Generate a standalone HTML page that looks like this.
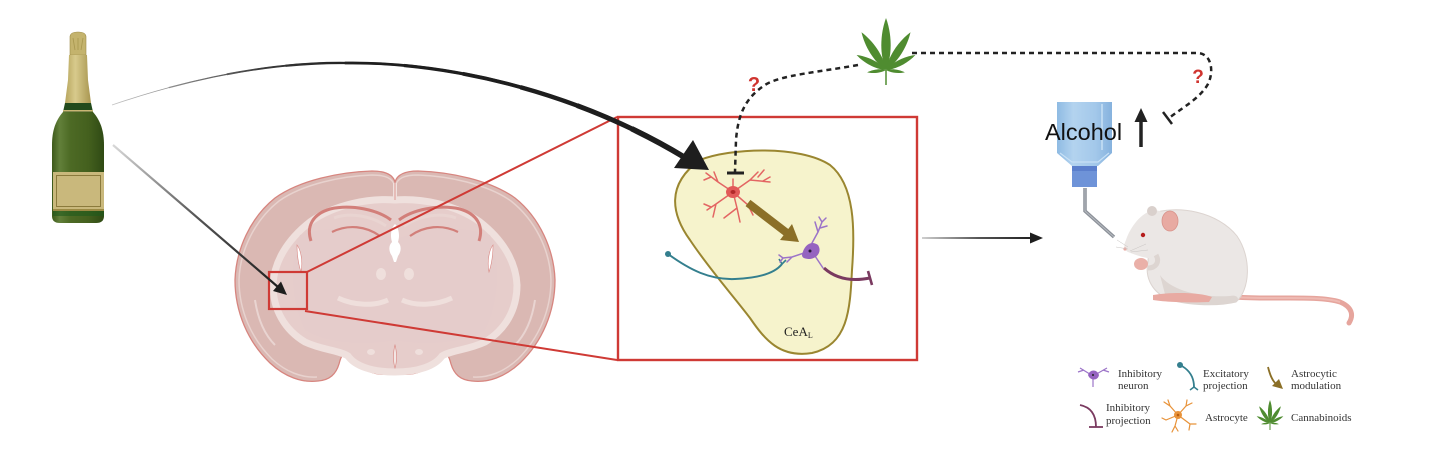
<!DOCTYPE html>
<html><head><meta charset="utf-8"><style>
html,body{margin:0;padding:0;background:#fff;}
svg{display:block;}
</style></head><body>
<svg width="1430" height="467" viewBox="0 0 1430 467" xmlns="http://www.w3.org/2000/svg">
<defs>
<linearGradient id="g1" gradientUnits="userSpaceOnUse" x1="113" y1="145" x2="280" y2="288"><stop offset="0" stop-color="#d8d8d8"/><stop offset="0.5" stop-color="#555"/><stop offset="1" stop-color="#1e1e1e"/></linearGradient>
<linearGradient id="g2" gradientUnits="userSpaceOnUse" x1="922" y1="0" x2="1035" y2="0"><stop offset="0" stop-color="#cfcfcf"/><stop offset="0.5" stop-color="#555"/><stop offset="1" stop-color="#1e1e1e"/></linearGradient>
<linearGradient id="g3" gradientUnits="userSpaceOnUse" x1="112" y1="0" x2="360" y2="0"><stop offset="0" stop-color="#c4c4c4"/><stop offset="0.6" stop-color="#3a3a3a"/><stop offset="1" stop-color="#1e1e1e"/></linearGradient>
<linearGradient id="neck" x1="0" y1="0" x2="1" y2="0"><stop offset="0" stop-color="#b7a65e"/><stop offset="0.4" stop-color="#d8ca8c"/><stop offset="1" stop-color="#a89650"/></linearGradient>
<linearGradient id="bodyg" x1="0" y1="0" x2="1" y2="0"><stop offset="0" stop-color="#3e5a1b"/><stop offset="0.15" stop-color="#62803a"/><stop offset="0.35" stop-color="#4d6a25"/><stop offset="0.7" stop-color="#44601e"/><stop offset="1" stop-color="#2f4a14"/></linearGradient>
<linearGradient id="wb" x1="0" y1="0" x2="1" y2="0"><stop offset="0" stop-color="#8fbbe3"/><stop offset="0.3" stop-color="#b3d3ef"/><stop offset="0.7" stop-color="#a3c8ea"/><stop offset="1" stop-color="#86b2de"/></linearGradient>
<path id="lf" d="M0,0 C-0.13,-0.3 -0.11,-0.7 0,-1 C0.11,-0.7 0.13,-0.3 0,0Z"/>
</defs>

<!-- Champagne bottle -->
<path d="M70,55 L70,37 Q70,32 78,32 Q86,32 86,37 L86,55 Z" fill="#c4b36d" stroke="#9e8c48" stroke-width="0.6"/>
<path d="M73,38 L75,50 M78,38 L78,50 M83,38 L81,50" stroke="#a8974f" stroke-width="0.8"/>
<path d="M69,55 L87,55 L88,80 L91,103 L65,103 L68,80 Z" fill="url(#neck)"/>
<path d="M65,103 L91,103 L93,112 L63,112 Z" fill="#224a1c"/>
<rect x="63" y="110" width="30" height="1.6" fill="#c9b673"/>
<path d="M63,112 L93,112 C100,120 104,130 104,145 L104,216 Q104,223 96,223 L60,223 Q52,223 52,216 L52,145 C52,130 56,120 63,112 Z" fill="url(#bodyg)"/>
<rect x="53" y="172" width="51" height="38" fill="#c9b87c"/>
<rect x="56.5" y="175.5" width="44" height="31" fill="none" stroke="#8b7a3c" stroke-width="1"/>
<rect x="53" y="209" width="51" height="2" fill="#9c8a44"/>
<rect x="53" y="211" width="51" height="5" fill="#1f5a1c" opacity="0.6"/>

<!-- Brain -->
<path d="M395,182 C393,175 386,171 372,171 C340,172 300,180 275,198 C250,218 236,250 235,280 C235,312 248,342 270,363 C285,377 302,383 318,381 C330,380 336,374 339,364 C341,356 344,350 349,353 C354,360 360,368 368,371 C378,375 389,376 395,370 C401,376 412,375 422,371 C430,368 436,360 441,353 C446,350 449,356 451,364 C454,374 460,380 472,381 C488,383 505,377 520,363 C542,342 555,312 555,280 C554,250 540,218 515,198 C490,180 450,172 418,171 C404,171 397,175 395,182 Z" fill="#dab8b3" stroke="#d7857f" stroke-width="1.3"/>
<path d="M395,186 C392,178 386,175 372,175 C342,176 303,184 279,201 C255,220 240,250 239,280 C239,310 251,338 272,359 C286,372 302,378 317,377" fill="none" stroke="#e8d2ce" stroke-width="1.5"/>
<path d="M395,186 C398,178 404,175 418,175 C448,176 487,184 511,201 C535,220 550,250 551,280 C551,310 539,338 518,359 C504,372 488,378 473,377" fill="none" stroke="#e8d2ce" stroke-width="1.5"/>
<path d="M395,200 C370,198 335,204 310,222 C287,240 274,262 273,285 C273,310 285,330 305,342 C322,350 338,350 348,356 C355,366 372,372 395,372 C418,372 435,366 442,356 C452,350 468,350 485,342 C505,330 517,310 517,285 C516,262 503,240 480,222 C455,204 420,198 395,200 Z" fill="#e6cdcb" stroke="#efe0dd" stroke-width="7"/>
<path d="M395,183 L395,202" stroke="#efe0dd" stroke-width="4"/>
<path d="M395,183 L395,200" stroke="#d7857f" stroke-width="0.8"/>
<path d="M300,235 C330,225 370,228 395,240 C420,228 460,225 490,235 C500,260 500,300 485,330 C460,345 420,345 395,340 C370,345 330,345 305,330 C290,300 290,260 300,235 Z" fill="#e5cccb"/>
<path d="M391,220 C378,210 352,204 330,209 C313,214 306,226 311,241" fill="none" stroke="#d27f7a" stroke-width="3"/>
<path d="M399,220 C412,210 438,204 460,209 C477,214 484,226 479,241" fill="none" stroke="#d27f7a" stroke-width="3"/>
<path d="M386,226 C372,216 350,212 334,218" fill="none" stroke="#e9d4d1" stroke-width="3"/>
<path d="M404,226 C418,216 440,212 456,218" fill="none" stroke="#e9d4d1" stroke-width="3"/>
<path d="M380,236 C366,226 348,224 332,232" fill="none" stroke="#d27f7a" stroke-width="2.2"/>
<path d="M410,236 C424,226 442,224 458,232" fill="none" stroke="#d27f7a" stroke-width="2.2"/>
<path d="M395,224 C399,228 400,236 398,242 C402,246 401,252 398,256 L396,262 L394,262 L392,256 C389,252 388,246 392,242 C390,236 391,228 395,224 Z" fill="#fff"/>
<path d="M297,245 C301,250 303,262 301,272 C299,266 297,256 297,245 Z" fill="#fff" stroke="#d88883" stroke-width="0.6"/>
<path d="M493,245 C489,250 487,262 489,272 C491,266 493,256 493,245 Z" fill="#fff" stroke="#d88883" stroke-width="0.6"/>
<ellipse cx="381" cy="274" rx="5" ry="6" fill="#efdfdc"/>
<ellipse cx="409" cy="274" rx="5" ry="6" fill="#efdfdc"/>
<path d="M338,298 C355,306 375,306 388,300" fill="none" stroke="#efdfdc" stroke-width="5"/>
<path d="M402,300 C415,306 435,306 452,298" fill="none" stroke="#efdfdc" stroke-width="5"/>
<ellipse cx="371" cy="352" rx="4" ry="3" fill="#efdfdc"/>
<ellipse cx="419" cy="352" rx="4" ry="3" fill="#efdfdc"/>
<path d="M395,345 C397,352 397,362 395,368 C393,362 393,352 395,345 Z" fill="#f3e6e4" stroke="#d7857f" stroke-width="0.6"/>
<path d="M255,300 C258,320 265,335 275,345" fill="none" stroke="#e9d4d1" stroke-width="2"/>
<path d="M535,300 C532,320 525,335 515,345" fill="none" stroke="#e9d4d1" stroke-width="2"/>

<!-- Small red box and zoom lines -->
<rect x="269" y="272" width="38" height="37" fill="none" stroke="#cf3a35" stroke-width="2.2"/>
<line x1="307" y1="272" x2="617" y2="117" stroke="#cf3a35" stroke-width="2"/>
<line x1="305" y1="311" x2="617" y2="360" stroke="#cf3a35" stroke-width="2"/>

<!-- Arrow bottle to brain -->
<line x1="113" y1="145" x2="278" y2="287" stroke="url(#g1)" stroke-width="2.2"/>
<polygon points="287,295 273,291 281,281.5" fill="#1e1e1e"/>

<!-- Big red box -->
<rect x="618" y="117" width="299" height="243" fill="#fff" stroke="#cf3a35" stroke-width="2.4"/>

<!-- Curved tapered arrow -->
<g fill="none" stroke="url(#g3)" stroke-linecap="butt">
<path d="M112,105 C200,75 280,62 347,63 C440,62 570,88 684,157" stroke-width="0.8"/>
<path d="M112,105 C200,75 280,62 347,63 C440,62 570,88 684,157" stroke-width="1.3" pathLength="100" stroke-dasharray="0 10 90 1000"/>
<path d="M112,105 C200,75 280,62 347,63 C440,62 570,88 684,157" stroke-width="1.8" pathLength="100" stroke-dasharray="0 20 80 1000"/>
<path d="M112,105 C200,75 280,62 347,63 C440,62 570,88 684,157" stroke-width="2.3" pathLength="100" stroke-dasharray="0 30 70 1000"/>
<path d="M112,105 C200,75 280,62 347,63 C440,62 570,88 684,157" stroke-width="2.8" pathLength="100" stroke-dasharray="0 40 60 1000"/>
<path d="M112,105 C200,75 280,62 347,63 C440,62 570,88 684,157" stroke-width="3.3" pathLength="100" stroke-dasharray="0 50 50 1000"/>
<path d="M112,105 C200,75 280,62 347,63 C440,62 570,88 684,157" stroke-width="3.8" pathLength="100" stroke-dasharray="0 60 40 1000"/>
<path d="M112,105 C200,75 280,62 347,63 C440,62 570,88 684,157" stroke-width="4.4" pathLength="100" stroke-dasharray="0 70 30 1000"/>
<path d="M112,105 C200,75 280,62 347,63 C440,62 570,88 684,157" stroke-width="5" pathLength="100" stroke-dasharray="0 80 20 1000"/>
<path d="M112,105 C200,75 280,62 347,63 C440,62 570,88 684,157" stroke-width="5.6" pathLength="100" stroke-dasharray="0 90 10 1000"/>
</g>

<!-- CeA blob -->
<path d="M700,160 C730,148 800,145 830,165 C855,185 855,230 852,270 C850,310 848,345 812,353 C780,358 765,340 750,318 C735,298 710,270 690,240 C672,215 665,185 700,160 Z" fill="#f6f3cc" stroke="#9a8630" stroke-width="2"/>
<polygon points="693,140 674,168 709,170" fill="#1e1e1e"/>
<text x="784" y="336" font-family="Liberation Serif, serif" font-size="13" fill="#222">CeA<tspan font-size="8" dy="2">L</tspan></text>

<!-- red astrocyte -->
<g stroke="#e36563" stroke-width="1.5" fill="none" stroke-linecap="round">
<path d="M733,192 L733,179"/>
<path d="M733,192 L718,182 L706,173 M718,182 L714,172 M711,177 L704,180"/>
<path d="M733,192 L750,180 L758,172 M750,180 L770,182 M758,177 L764,170 M763,181 L770,177"/>
<path d="M733,192 L716,204 L707,210 M716,204 L713,217 M711,207 L704,204"/>
<path d="M733,192 L737,208 L740,222 M737,208 L724,218"/>
<path d="M733,192 L748,205 L753,215"/>
</g>
<ellipse cx="733" cy="192" rx="7" ry="6" fill="#e25a58"/>
<ellipse cx="733" cy="192" rx="2.5" ry="2" fill="#b22a2a"/>

<!-- brown astrocytic modulation arrow -->
<line x1="748" y1="203" x2="787" y2="233" stroke="#8b6f27" stroke-width="8"/>
<polygon points="799,242 780,240 792,224" fill="#8b6f27"/>

<!-- teal excitatory projection -->
<path d="M668,254 C690,270 710,280 735,279 C760,278 775,273 782,264" fill="none" stroke="#347f8e" stroke-width="2"/>
<circle cx="668" cy="254" r="3" fill="#347f8e"/>
<path d="M782,264 L779,259 M782,264 L786,260" stroke="#347f8e" stroke-width="1.6"/>

<!-- purple neuron -->
<g stroke="#9c74c8" stroke-width="1.5" fill="none" stroke-linecap="round">
<path d="M812,243 L818,232 L822,222 M818,232 L815,222 M822,222 L819,217 M822,222 L826,218 M820,228 L827,226"/>
<path d="M804,253 L792,257 L783,258 M792,257 L787,262 M783,258 L779,255 M783,258 L780,262"/>
<path d="M815,256 L823,268"/>
</g>
<path d="M802,255 C804,245 811,240 818,245 C822,251 818,258 810,259 C805,259 802,258 802,255 Z" fill="#9563c0"/>
<circle cx="810" cy="251" r="1.5" fill="#2a1a3a"/>
<path d="M824,268 C835,278 850,282 870,278" fill="none" stroke="#7a3a60" stroke-width="3"/>
<line x1="868" y1="271" x2="872" y2="285" stroke="#7a3a60" stroke-width="2.6"/>

<!-- dashed inhibitory line from cannabis to astrocyte -->
<path d="M858,65 C820,72 780,75 765,85 C745,98 738,115 736,140 L735,172" fill="none" stroke="#222" stroke-width="2.5" stroke-dasharray="5,4"/>
<line x1="727" y1="173" x2="744" y2="173" stroke="#222" stroke-width="3"/>
<text x="754" y="91" text-anchor="middle" font-family="Liberation Sans, sans-serif" font-size="20" font-weight="bold" fill="#d0342f">?</text>

<!-- dashed line to alcohol -->
<path d="M912,53 L1198,53 C1212,54 1214,72 1208,84 C1200,98 1185,106 1169,118" fill="none" stroke="#222" stroke-width="2.5" stroke-dasharray="5,4"/>
<line x1="1163" y1="112" x2="1172" y2="124" stroke="#222" stroke-width="2.5"/>
<text x="1198" y="83" text-anchor="middle" font-family="Liberation Sans, sans-serif" font-size="19" font-weight="bold" fill="#d0342f">?</text>

<!-- Cannabis leaf -->
<g transform="translate(886,70)" fill="#4f8c30">
<use href="#lf" transform="scale(52)"/>
<use href="#lf" transform="rotate(-33) scale(45)"/>
<use href="#lf" transform="rotate(33) scale(45)"/>
<use href="#lf" transform="rotate(-63) scale(33)"/>
<use href="#lf" transform="rotate(63) scale(33)"/>
<use href="#lf" transform="rotate(-97) scale(19)"/>
<use href="#lf" transform="rotate(97) scale(19)"/>
<line x1="0" y1="0" x2="0" y2="15" stroke="#4f8c30" stroke-width="1.5"/>
</g>

<!-- arrow to mouse -->
<line x1="922" y1="238" x2="1032" y2="238" stroke="url(#g2)" stroke-width="2"/>
<polygon points="1043,238 1030,232.5 1030,243.5" fill="#1e1e1e"/>

<!-- Water bottle -->
<path d="M1057,102 L1112,102 L1112,153 L1098,166 L1072,166 L1057,153 Z" fill="url(#wb)"/>
<path d="M1060,153 L1072,162 L1098,162 L1109,153" fill="none" stroke="#c7e0f5" stroke-width="1.2"/>
<line x1="1102" y1="104" x2="1102" y2="150" stroke="#c7e0f5" stroke-width="1.5"/>
<rect x="1072" y="166" width="25" height="21" fill="#6e93d8"/>
<rect x="1072" y="166" width="25" height="5" fill="#5b7fcc"/>
<path d="M1085,188 L1085,211 L1114,237" fill="none" stroke="#8b9098" stroke-width="3.5"/>
<path d="M1085,188 L1085,211 L1114,237" fill="none" stroke="#b6bac0" stroke-width="1"/>

<!-- Alcohol text + arrow -->
<text x="1045" y="140" font-family="Liberation Sans, sans-serif" font-size="23.5" fill="#111">Alcohol</text>
<line x1="1141" y1="147" x2="1141" y2="120" stroke="#222" stroke-width="3.5"/>
<polygon points="1134.5,122 1147.5,122 1141,108" fill="#222"/>

<!-- Mouse -->
<path d="M1236,297 C1270,300 1318,295 1340,302 C1352,307 1354,315 1349,323" fill="none" stroke="#e6a59d" stroke-width="5" stroke-linecap="round"/>
<path d="M1236,297 C1270,300 1318,295 1340,302" fill="none" stroke="#eebab3" stroke-width="2"/>
<path d="M1150,214 C1178,204 1218,212 1237,236 C1252,258 1250,290 1236,302 C1215,307 1182,305 1166,298 C1150,290 1145,275 1148,262 Z" fill="#ebe7e5" stroke="#dcd4d0" stroke-width="1"/>
<path d="M1160,275 C1170,290 1200,298 1230,296 C1238,294 1240,300 1236,302 C1215,307 1182,305 1166,298 Z" fill="#ddd5d1"/>
<path d="M1153,295 C1170,292 1200,292 1212,297 L1209,302 C1190,303 1165,302 1153,300 Z" fill="#e8aaa2"/>
<path d="M1151,211 C1140,214 1130,228 1126,240 C1123,246 1124,250 1128,252 C1140,257 1155,261 1166,258 C1173,250 1176,235 1171,222 C1166,212 1158,209 1151,211 Z" fill="#ebe7e5"/>
<ellipse cx="1152" cy="211" rx="5" ry="5" fill="#d9d0cc"/>
<ellipse cx="1170" cy="221" rx="8" ry="10" fill="#e8aaa2" stroke="#d8928a" stroke-width="0.8"/>
<circle cx="1143" cy="235" r="2.2" fill="#b51c1c"/>
<circle cx="1125" cy="249" r="1.6" fill="#e8aaa2"/>
<path d="M1128,247 L1117,240 M1128,249 L1116,247 M1130,251 L1146,244 M1131,252 L1148,250" stroke="#c8c4c2" stroke-width="0.5"/>
<path d="M1156,255 C1160,262 1156,268 1148,268" fill="none" stroke="#ddd5d1" stroke-width="5"/>
<ellipse cx="1141" cy="264" rx="7" ry="6" fill="#eab0a8"/>

<!-- Legend -->
<g font-family="Liberation Serif, serif" font-size="11" fill="#333">
<text x="1118" y="377">Inhibitory</text>
<text x="1118" y="389">neuron</text>
<text x="1203" y="377">Excitatory</text>
<text x="1203" y="389">projection</text>
<text x="1291" y="377">Astrocytic</text>
<text x="1291" y="389">modulation</text>
<text x="1106" y="411">Inhibitory</text>
<text x="1106" y="424">projection</text>
<text x="1205" y="421">Astrocyte</text>
<text x="1291" y="421">Cannabinoids</text>
</g>
<g stroke="#9c74c8" stroke-width="1.2" fill="none">
<path d="M1093,376 L1080,368 M1084,370 L1078,372 M1093,376 L1107,368 M1103,370 L1109,372 M1093,376 L1093,387"/>
</g>
<path d="M1088,375 C1090,369 1097,369 1099,375 C1098,381 1090,381 1088,375 Z" fill="#9563c0"/>
<circle cx="1093" cy="375" r="1" fill="#222"/>
<circle cx="1180" cy="365" r="3" fill="#347f8e"/>
<path d="M1180,365 C1190,370 1194,378 1194,387" fill="none" stroke="#347f8e" stroke-width="1.8"/>
<path d="M1194,387 L1190,390 M1194,387 L1198,390" stroke="#347f8e" stroke-width="1.5"/>
<path d="M1268,367 C1270,375 1272,380 1276,384" fill="none" stroke="#8b6f27" stroke-width="1.8"/>
<polygon points="1283,389 1272,386 1279,379" fill="#8b6f27"/>
<path d="M1080,405 C1090,407 1096,414 1096,427" fill="none" stroke="#7a3a60" stroke-width="1.8"/>
<line x1="1089" y1="427" x2="1103" y2="427" stroke="#7a3a60" stroke-width="1.8"/>
<g stroke="#e8933a" stroke-width="1.2" fill="none" stroke-linecap="round">
<path d="M1178,415 L1170,406 L1164,402 M1170,406 L1168,400 M1178,415 L1186,406 L1192,403 M1186,406 L1187,400 M1178,415 L1166,420 L1162,418 M1178,415 L1175,426 L1172,432 M1175,426 L1178,431 M1178,415 L1190,424 L1196,424 M1190,424 L1189,430"/>
</g>
<circle cx="1178" cy="415" r="4" fill="#e8933a"/>
<circle cx="1178" cy="415" r="1.3" fill="#b85d10"/>
<g transform="translate(1270,423)" fill="#4f8c30">
<use href="#lf" transform="scale(23)"/>
<use href="#lf" transform="rotate(-33) scale(20)"/>
<use href="#lf" transform="rotate(33) scale(20)"/>
<use href="#lf" transform="rotate(-63) scale(15)"/>
<use href="#lf" transform="rotate(63) scale(15)"/>
<use href="#lf" transform="rotate(-97) scale(9)"/>
<use href="#lf" transform="rotate(97) scale(9)"/>
<line x1="0" y1="0" x2="0" y2="7" stroke="#4f8c30" stroke-width="1"/>
</g>
</svg>
</body></html>
